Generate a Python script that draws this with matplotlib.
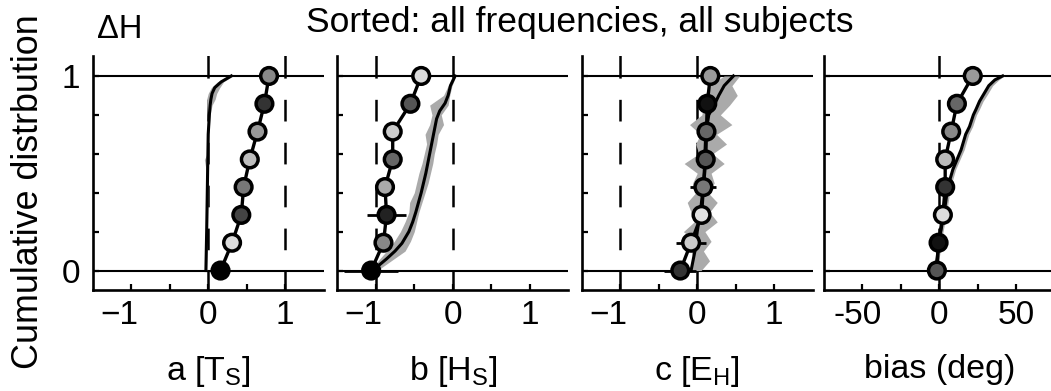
import numpy as np
import matplotlib
matplotlib.use('Agg')
import matplotlib.pyplot as plt
import matplotlib.transforms as mtransforms
from matplotlib.ticker import FixedLocator, FixedFormatter

plt.rcParams['font.family'] = ['Liberation Sans', 'DejaVu Sans']
plt.rcParams['mathtext.fontset'] = 'custom'
plt.rcParams['mathtext.rm'] = 'Liberation Sans'
plt.rcParams['mathtext.it'] = 'Liberation Sans:italic'
plt.rcParams['mathtext.bf'] = 'Liberation Sans:bold'
plt.rcParams['lines.scale_dashes'] = False

# ---------------- data ----------------
levels = [0.0, 0.143, 0.286, 0.429, 0.571, 0.714, 0.857, 1.0]

# panel a [T_S]
a_pts = [0.16, 0.31, 0.43, 0.46, 0.54, 0.64, 0.73, 0.79]
a_err = [0, 0, 0, 0, 0, 0, 0, 0]
a_fill = ['#000000', '#dcdcdc', '#444444', '#777777', '#bdbdbd', '#999999', '#333333', '#888888']
a_cy = [0.0, 0.1, 0.2, 0.3, 0.4, 0.5, 0.57, 0.6, 0.7, 0.8, 0.85, 0.88, 0.91, 0.94, 0.97, 1.0]
a_cx = [-0.03, -0.025, -0.02, -0.016, -0.012, -0.008, -0.005, -0.004, 0.0, 0.015, 0.025, 0.035, 0.05, 0.085, 0.17, 0.30]
a_lo = [-0.04, -0.035, -0.03, -0.026, -0.022, -0.02, -0.05, -0.015, -0.012, -0.01, -0.02, -0.02, 0.0, 0.04, 0.12, 0.28]
a_hi = [-0.02, -0.015, -0.01, -0.006, -0.002, 0.002, 0.005, 0.006, 0.01, 0.025, 0.05, 0.09, 0.11, 0.15, 0.2, 0.32]

# panel b [H_S]
b_pts = [-1.06, -0.90, -0.86, -0.88, -0.78, -0.78, -0.55, -0.41]
b_err = [0.35, 0, 0.25, 0, 0, 0, 0, 0]
b_fill = ['#000000', '#888888', '#222222', '#aaaaaa', '#666666', '#cccccc', '#555555', '#dddddd']
b_cy = [0.0, 0.03, 0.06, 0.1, 0.14, 0.2, 0.25, 0.3, 0.4, 0.5, 0.6, 0.7, 0.78, 0.82, 0.86, 0.9, 0.95, 1.0]
b_cx = [-1.03, -0.95, -0.86, -0.75, -0.66, -0.57, -0.52, -0.48, -0.41, -0.35, -0.30, -0.25, -0.21, -0.17, -0.10, -0.06, -0.03, 0.03]
b_by = [0.0, 0.05, 0.1, 0.15, 0.2, 0.25, 0.3, 0.35, 0.4, 0.45, 0.5, 0.55, 0.6, 0.65, 0.7, 0.75, 0.8, 0.85, 0.9, 0.95, 1.0]
b_lo = [-1.05, -0.97, -0.86, -0.76, -0.68, -0.62, -0.57, -0.56, -0.50, -0.47, -0.44, -0.40, -0.37, -0.34, -0.36, -0.30, -0.27, -0.30, -0.12, -0.06, 0.0]
b_hi = [-0.98, -0.80, -0.62, -0.55, -0.50, -0.47, -0.44, -0.40, -0.36, -0.32, -0.29, -0.26, -0.24, -0.21, -0.19, -0.12, -0.15, -0.06, -0.04, -0.01, 0.04]

# panel c [E_H]
c_pts = [-0.22, -0.08, 0.056, 0.08, 0.11, 0.12, 0.13, 0.17]
c_err = [0.21, 0.20, 0.10, 0.17, 0.08, 0.05, 0.05, 0.05]
c_fill = ['#333333', '#cccccc', '#e0e0e0', '#777777', '#555555', '#666666', '#111111', '#999999']
c_cy = [0.0, 0.1, 0.2, 0.3, 0.4, 0.5, 0.6, 0.7, 0.8, 0.85, 0.9, 0.95, 1.0]
c_cx = [-0.08, -0.03, 0.0, 0.04, 0.07, 0.09, 0.10, 0.11, 0.15, 0.22, 0.28, 0.35, 0.47]
c_by = [0.0, 0.05, 0.1, 0.15, 0.2, 0.25, 0.3, 0.35, 0.4, 0.45, 0.5, 0.55, 0.6, 0.65, 0.7, 0.75, 0.8, 0.85, 0.9, 0.95, 1.0]
c_lo = [-0.10, -0.05, -0.08, -0.02, -0.18, -0.04, -0.08, -0.13, -0.02, -0.06, 0.0, -0.17, 0.02, -0.02, 0.04, -0.10, 0.06, 0.08, 0.10, 0.15, 0.35]
c_hi = [0.05, 0.16, 0.08, 0.18, 0.10, 0.26, 0.16, 0.26, 0.14, 0.22, 0.18, 0.35, 0.20, 0.38, 0.25, 0.45, 0.30, 0.42, 0.52, 0.45, 0.55]

# panel bias (deg)
d_pts = [-1.7, -0.6, 2.2, 3.7, 3.7, 7.6, 11.3, 21.6]
d_err = [0, 0, 0, 0, 0, 0, 0, 0]
d_fill = ['#555555', '#111111', '#dddddd', '#333333', '#bbbbbb', '#888888', '#666666', '#999999']
d_cy = [0.0, 0.1, 0.2, 0.28, 0.35, 0.43, 0.52, 0.62, 0.7, 0.74, 0.8, 0.83, 0.87, 0.91, 0.95, 0.98, 1.0]
d_cx = [-2.6, -1.0, 0.8, 2.6, 4.0, 5.4, 8.7, 14.0, 17.0, 19.5, 22.0, 23.8, 26.0, 29.0, 32.0, 36.0, 41.0]
d_lo = [-2.8, -1.2, 0.6, 2.4, 3.8, 5.2, 8.5, 13.8, 16.8, 19.3, 21.8, 23.6, 25.8, 28.8, 31.8, 35.8, 40.8]
d_hi = [-1.5, 0.5, 2.3, 4.2, 5.6, 7.2, 10.5, 16.0, 19.0, 21.5, 24.0, 26.0, 28.3, 31.5, 34.5, 38.5, 42.0]

xlabels = ['a [$\\mathrm{T_S}$]', 'b [$\\mathrm{H_S}$]', 'c [$\\mathrm{E_H}$]', 'bias (deg)']
tick_vals = [[-1, 0, 1], [-1, 0, 1], [-1, 0, 1], [-50, 0, 50]]
tick_text = [['\u22121', '0', '1'], ['\u22121', '0', '1'], ['\u22121', '0', '1'], ['-50', '0', '50']]
minor_vals = [[-0.5, 0.5], [-0.5, 0.5], [-0.5, 0.5], [-25, 25]]
ref_lines = [[0, 1], [-1, 0], [-1, 0], [0]]
xlims = [(-1.5, 1.5), (-1.5, 1.5), (-1.5, 1.5), (-75, 75)]
ytick_vals = [0, 1]
ytick_text = ['0', '1']
yminor_vals = [0.2, 0.4, 0.6, 0.8]

panels = [
    (a_pts, a_err, a_fill, a_cy, a_cx, a_cy, a_lo, a_hi),
    (b_pts, b_err, b_fill, b_cy, b_cx, b_by, b_lo, b_hi),
    (c_pts, c_err, c_fill, c_cy, c_cx, c_by, c_lo, c_hi),
    (d_pts, d_err, d_fill, d_cy, d_cx, d_cy, d_lo, d_hi),
]

# ---------------- figure ----------------
fig = plt.figure(figsize=(10.51, 3.91), dpi=100)
lefts = [0.0882, 0.3209, 0.5535, 0.7840]
W, B, H = 0.2198, 0.2583, 0.5972
FS_TICK = 24
FS_LAB = 24.5

for i, (pts, err, fill, cy, cx, by, lo, hi) in enumerate(panels):
    ax = fig.add_axes([lefts[i], B, W, H])
    ax.set_xlim(*xlims[i])
    ax.set_ylim(-0.1, 1.1)
    for s in ['top', 'right']:
        ax.spines[s].set_visible(False)
    for s in ['left', 'bottom']:
        ax.spines[s].set_linewidth(1.9)

    ax.axhline(0, color='k', lw=1.5, zorder=1)
    ax.axhline(1, color='k', lw=1.5, zorder=1)
    for v in ref_lines[i]:
        ax.vlines(v, 1, 1.2, color='k', lw=1.8, zorder=1)
        ax.vlines(v, -0.2, 0, color='k', lw=1.8, zorder=1)
        ax.vlines(v, 0, 1, color='k', lw=1.8, zorder=1,
                  linestyles=[(15.6, (15.6, 15.3))])

    ax.fill_betweenx(by, lo, hi, color='#aaaaaa', lw=0, zorder=2)
    ax.plot(cx, cy, color='k', lw=2.2, zorder=3, solid_joinstyle='round')

    ax.errorbar(pts, levels, xerr=err, fmt='none', ecolor='k', elinewidth=2.0,
                capsize=0, zorder=3.5)
    ax.plot(pts, levels, color='k', lw=2.4, zorder=4)
    ax.scatter(pts, levels, s=12.0 ** 2, c=fill, edgecolors='k', linewidths=2.5,
               zorder=5, clip_on=False)

    ax.xaxis.set_major_locator(FixedLocator(tick_vals[i]))
    ax.xaxis.set_major_formatter(FixedFormatter(tick_text[i]))
    ax.xaxis.set_minor_locator(FixedLocator(minor_vals[i]))
    ax.yaxis.set_major_locator(FixedLocator(ytick_vals))
    ax.yaxis.set_major_formatter(FixedFormatter(ytick_text))
    ax.yaxis.set_minor_locator(FixedLocator(yminor_vals))
    ax.tick_params(axis='both', which='both', direction='in', length=4, width=1.6)
    ax.tick_params(axis='x', which='major', labelsize=FS_TICK, pad=7)
    ax.tick_params(axis='y', which='major', labelsize=FS_TICK, pad=9,
                   labelleft=(i == 0))
    ax.set_xlabel(xlabels[i], fontsize=FS_LAB, labelpad=17)

    # negative labels: centre the digits on the tick, sign hanging to the left
    for lab in ax.get_xticklabels():
        t = lab.get_text()
        if t.startswith('\u2212'):
            shift = -12
        elif t.startswith('-'):
            shift = -5
        else:
            shift = 0
        if shift:
            lab.set_transform(lab.get_transform() +
                              mtransforms.ScaledTranslation(shift / 100, 0, fig.dpi_scale_trans))

fig.text(0.552, 0.918, 'Sorted: all frequencies, all subjects', ha='center',
         va='baseline', fontsize=25.5)
fig.text(0.092, 0.903, '\u0394H', ha='left', va='baseline', fontsize=23.5)
fig.text(0.027, 0.510, 'Cumulative distrbution', rotation=90, ha='center',
         va='center', fontsize=25.8)

fig.savefig('out.png', dpi=100)
